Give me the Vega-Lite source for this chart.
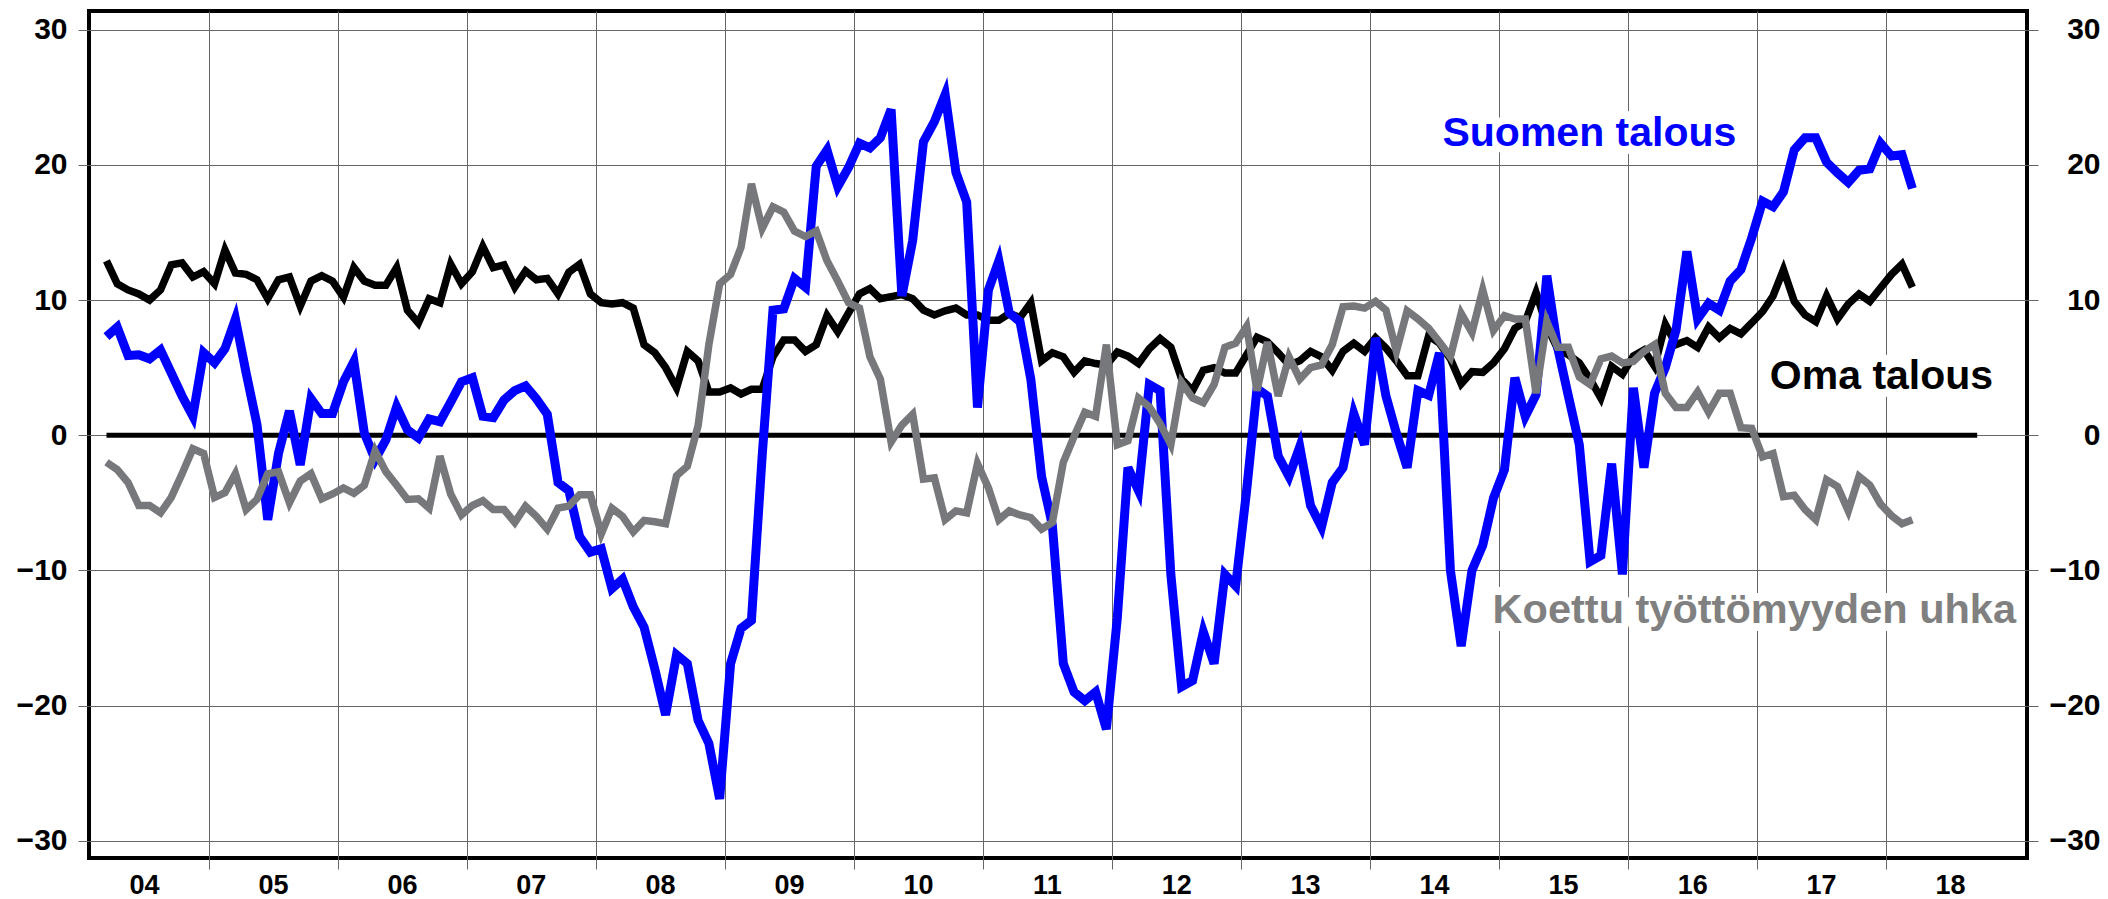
{
  "$schema": "https://vega.github.io/schema/vega-lite/v6.json",
  "width": 1938,
  "height": 847,
  "autosize": {"type": "none"},
  "padding": {"left": 89, "top": 11, "right": 81, "bottom": 41},
  "background": "white",
  "config": {
    "view": {"stroke": "black", "strokeWidth": 4},
    "font": "Liberation Sans"
  },
  "datasets": {
    "survey": [
      {"d":"2004-03","s":7.3,"o":12.9,"k":-2.0},
      {"d":"2004-04","s":8.0,"o":11.2,"k":-2.55},
      {"d":"2004-05","s":5.9,"o":10.75,"k":-3.5},
      {"d":"2004-06","s":5.95,"o":10.45,"k":-5.2},
      {"d":"2004-07","s":5.65,"o":10.0,"k":-5.2},
      {"d":"2004-08","s":6.3,"o":10.75,"k":-5.75},
      {"d":"2004-09","s":4.6,"o":12.6,"k":-4.6},
      {"d":"2004-10","s":2.9,"o":12.75,"k":-2.85},
      {"d":"2004-11","s":1.4,"o":11.7,"k":-1.0},
      {"d":"2004-12","s":6.1,"o":12.1,"k":-1.35},
      {"d":"2005-01","s":5.35,"o":11.2,"k":-4.6},
      {"d":"2005-02","s":6.4,"o":13.7,"k":-4.25},
      {"d":"2005-03","s":8.6,"o":12.0,"k":-2.85},
      {"d":"2005-04","s":4.6,"o":11.9,"k":-5.5},
      {"d":"2005-05","s":0.8,"o":11.5,"k":-4.75},
      {"d":"2005-06","s":-6.25,"o":10.1,"k":-2.85},
      {"d":"2005-07","s":-1.35,"o":11.5,"k":-2.7},
      {"d":"2005-08","s":1.8,"o":11.7,"k":-5.0},
      {"d":"2005-09","s":-2.2,"o":9.55,"k":-3.4},
      {"d":"2005-10","s":2.7,"o":11.4,"k":-2.85},
      {"d":"2005-11","s":1.6,"o":11.8,"k":-4.7},
      {"d":"2005-12","s":1.6,"o":11.4,"k":-4.35},
      {"d":"2006-01","s":3.95,"o":10.2,"k":-3.9},
      {"d":"2006-02","s":5.45,"o":12.4,"k":-4.3},
      {"d":"2006-03","s":0.15,"o":11.4,"k":-3.7},
      {"d":"2006-04","s":-1.8,"o":11.1,"k":-1.15},
      {"d":"2006-05","s":-0.35,"o":11.1,"k":-2.7},
      {"d":"2006-06","s":2.1,"o":12.4,"k":-3.7},
      {"d":"2006-07","s":0.4,"o":9.25,"k":-4.75},
      {"d":"2006-08","s":-0.2,"o":8.3,"k":-4.7},
      {"d":"2006-09","s":1.2,"o":10.1,"k":-5.4},
      {"d":"2006-10","s":1.0,"o":9.8,"k":-1.55},
      {"d":"2006-11","s":2.45,"o":12.65,"k":-4.35},
      {"d":"2006-12","s":3.95,"o":11.2,"k":-5.9},
      {"d":"2007-01","s":4.25,"o":12.1,"k":-5.2},
      {"d":"2007-02","s":1.4,"o":13.95,"k":-4.85},
      {"d":"2007-03","s":1.3,"o":12.4,"k":-5.5},
      {"d":"2007-04","s":2.6,"o":12.6,"k":-5.5},
      {"d":"2007-05","s":3.3,"o":10.95,"k":-6.45},
      {"d":"2007-06","s":3.65,"o":12.15,"k":-5.25},
      {"d":"2007-07","s":2.7,"o":11.5,"k":-6.0},
      {"d":"2007-08","s":1.55,"o":11.6,"k":-6.95},
      {"d":"2007-09","s":-3.5,"o":10.45,"k":-5.4},
      {"d":"2007-10","s":-4.1,"o":12.05,"k":-5.25},
      {"d":"2007-11","s":-7.5,"o":12.65,"k":-4.4},
      {"d":"2007-12","s":-8.65,"o":10.45,"k":-4.4},
      {"d":"2008-01","s":-8.4,"o":9.8,"k":-7.3},
      {"d":"2008-02","s":-11.35,"o":9.7,"k":-5.4},
      {"d":"2008-03","s":-10.65,"o":9.8,"k":-6.0},
      {"d":"2008-04","s":-12.7,"o":9.4,"k":-7.15},
      {"d":"2008-05","s":-14.2,"o":6.7,"k":-6.3},
      {"d":"2008-06","s":-17.3,"o":6.1,"k":-6.4},
      {"d":"2008-07","s":-20.7,"o":5.0,"k":-6.55},
      {"d":"2008-08","s":-16.25,"o":3.5,"k":-3.0},
      {"d":"2008-09","s":-16.9,"o":6.2,"k":-2.3},
      {"d":"2008-10","s":-21.1,"o":5.5,"k":0.7},
      {"d":"2008-11","s":-22.8,"o":3.2,"k":6.7},
      {"d":"2008-12","s":-26.9,"o":3.2,"k":11.2},
      {"d":"2009-01","s":-16.9,"o":3.5,"k":11.9},
      {"d":"2009-02","s":-14.3,"o":3.05,"k":13.9},
      {"d":"2009-03","s":-13.7,"o":3.4,"k":18.6},
      {"d":"2009-04","s":-1.5,"o":3.4,"k":15.3},
      {"d":"2009-05","s":9.25,"o":5.8,"k":16.9},
      {"d":"2009-06","s":9.35,"o":7.05,"k":16.5},
      {"d":"2009-07","s":11.6,"o":7.05,"k":15.1},
      {"d":"2009-08","s":10.95,"o":6.2,"k":14.7},
      {"d":"2009-09","s":19.9,"o":6.7,"k":15.1},
      {"d":"2009-10","s":21.1,"o":8.85,"k":12.9},
      {"d":"2009-11","s":18.4,"o":7.65,"k":11.4},
      {"d":"2009-12","s":19.8,"o":9.05,"k":9.8},
      {"d":"2010-01","s":21.6,"o":10.45,"k":9.4},
      {"d":"2010-02","s":21.25,"o":10.85,"k":5.8},
      {"d":"2010-03","s":22.0,"o":10.1,"k":4.15},
      {"d":"2010-04","s":24.1,"o":10.25,"k":-0.5},
      {"d":"2010-05","s":10.3,"o":10.4,"k":0.75},
      {"d":"2010-06","s":14.4,"o":10.1,"k":1.55},
      {"d":"2010-07","s":21.7,"o":9.25,"k":-3.25},
      {"d":"2010-08","s":23.2,"o":8.9,"k":-3.15},
      {"d":"2010-09","s":25.2,"o":9.2,"k":-6.25},
      {"d":"2010-10","s":19.45,"o":9.4,"k":-5.6},
      {"d":"2010-11","s":17.25,"o":8.9,"k":-5.75},
      {"d":"2010-12","s":2.05,"o":8.9,"k":-2.1},
      {"d":"2011-01","s":10.75,"o":8.5,"k":-3.9},
      {"d":"2011-02","s":12.9,"o":8.5,"k":-6.25},
      {"d":"2011-03","s":9.05,"o":9.0,"k":-5.6},
      {"d":"2011-04","s":8.4,"o":8.7,"k":-5.9},
      {"d":"2011-05","s":4.15,"o":9.8,"k":-6.1},
      {"d":"2011-06","s":-3.05,"o":5.5,"k":-6.95},
      {"d":"2011-07","s":-6.65,"o":6.1,"k":-6.45},
      {"d":"2011-08","s":-16.9,"o":5.8,"k":-2.0},
      {"d":"2011-09","s":-19.0,"o":4.65,"k":-0.1},
      {"d":"2011-10","s":-19.65,"o":5.5,"k":1.7},
      {"d":"2011-11","s":-19.0,"o":5.3,"k":1.4},
      {"d":"2011-12","s":-21.75,"o":5.2,"k":6.7},
      {"d":"2012-01","s":-13.5,"o":6.15,"k":-0.7},
      {"d":"2012-02","s":-2.4,"o":5.85,"k":-0.4},
      {"d":"2012-03","s":-4.1,"o":5.3,"k":2.75},
      {"d":"2012-04","s":3.75,"o":6.4,"k":2.1},
      {"d":"2012-05","s":3.3,"o":7.15,"k":0.85},
      {"d":"2012-06","s":-10.3,"o":6.5,"k":-0.7},
      {"d":"2012-07","s":-18.6,"o":4.15,"k":3.9},
      {"d":"2012-08","s":-18.15,"o":3.3,"k":2.75},
      {"d":"2012-09","s":-14.55,"o":4.8,"k":2.4},
      {"d":"2012-10","s":-16.9,"o":5.0,"k":3.75},
      {"d":"2012-11","s":-10.3,"o":4.6,"k":6.5},
      {"d":"2012-12","s":-11.15,"o":4.6,"k":6.8},
      {"d":"2013-01","s":-4.1,"o":5.95,"k":8.05},
      {"d":"2013-02","s":3.45,"o":7.25,"k":3.3},
      {"d":"2013-03","s":2.9,"o":6.9,"k":6.9},
      {"d":"2013-04","s":-1.55,"o":6.1,"k":2.9},
      {"d":"2013-05","s":-3.05,"o":5.2,"k":5.8},
      {"d":"2013-06","s":-0.85,"o":5.5,"k":4.15},
      {"d":"2013-07","s":-5.2,"o":6.2,"k":5.0},
      {"d":"2013-08","s":-6.8,"o":5.8,"k":5.2},
      {"d":"2013-09","s":-3.5,"o":4.8,"k":6.7},
      {"d":"2013-10","s":-2.4,"o":6.2,"k":9.5},
      {"d":"2013-11","s":1.6,"o":6.8,"k":9.55},
      {"d":"2013-12","s":-0.7,"o":6.2,"k":9.4},
      {"d":"2014-01","s":7.2,"o":7.2,"k":9.9},
      {"d":"2014-02","s":2.9,"o":6.45,"k":9.25},
      {"d":"2014-03","s":0.15,"o":5.5,"k":6.2},
      {"d":"2014-04","s":-2.4,"o":4.4,"k":9.2},
      {"d":"2014-05","s":3.3,"o":4.4,"k":8.6},
      {"d":"2014-06","s":2.95,"o":7.35,"k":7.9},
      {"d":"2014-07","s":6.1,"o":6.8,"k":6.9},
      {"d":"2014-08","s":-10.0,"o":5.65,"k":5.8},
      {"d":"2014-09","s":-15.6,"o":3.8,"k":9.0},
      {"d":"2014-10","s":-10.0,"o":4.7,"k":7.6},
      {"d":"2014-11","s":-8.15,"o":4.65,"k":10.75},
      {"d":"2014-12","s":-4.65,"o":5.35,"k":7.75},
      {"d":"2015-01","s":-2.55,"o":6.4,"k":8.85},
      {"d":"2015-02","s":4.25,"o":7.9,"k":8.6},
      {"d":"2015-03","s":1.4,"o":8.4,"k":8.6},
      {"d":"2015-04","s":3.0,"o":10.55,"k":3.1},
      {"d":"2015-05","s":11.8,"o":8.05,"k":8.4},
      {"d":"2015-06","s":6.5,"o":6.4,"k":6.5},
      {"d":"2015-07","s":2.9,"o":5.95,"k":6.5},
      {"d":"2015-08","s":-0.7,"o":5.35,"k":4.3},
      {"d":"2015-09","s":-9.35,"o":4.15,"k":3.75},
      {"d":"2015-10","s":-8.9,"o":2.75,"k":5.65},
      {"d":"2015-11","s":-2.1,"o":5.1,"k":5.85},
      {"d":"2015-12","s":-10.3,"o":4.5,"k":5.35},
      {"d":"2016-01","s":3.5,"o":5.85,"k":5.45},
      {"d":"2016-02","s":-2.4,"o":6.3,"k":6.2},
      {"d":"2016-03","s":3.1,"o":5.1,"k":6.7},
      {"d":"2016-04","s":5.0,"o":8.2,"k":3.1},
      {"d":"2016-05","s":7.8,"o":6.7,"k":2.05},
      {"d":"2016-06","s":13.6,"o":7.0,"k":2.05},
      {"d":"2016-07","s":8.6,"o":6.5,"k":3.2},
      {"d":"2016-08","s":9.75,"o":8.0,"k":1.7},
      {"d":"2016-09","s":9.25,"o":7.2,"k":3.1},
      {"d":"2016-10","s":11.4,"o":7.9,"k":3.1},
      {"d":"2016-11","s":12.25,"o":7.5,"k":0.55},
      {"d":"2016-12","s":14.6,"o":8.3,"k":0.5},
      {"d":"2017-01","s":17.3,"o":9.15,"k":-1.6},
      {"d":"2017-02","s":16.9,"o":10.3,"k":-1.35},
      {"d":"2017-03","s":18.0,"o":12.25,"k":-4.55},
      {"d":"2017-04","s":21.1,"o":9.9,"k":-4.45},
      {"d":"2017-05","s":22.0,"o":8.9,"k":-5.5},
      {"d":"2017-06","s":22.0,"o":8.4,"k":-6.25},
      {"d":"2017-07","s":20.2,"o":10.3,"k":-3.3},
      {"d":"2017-08","s":19.4,"o":8.6,"k":-3.8},
      {"d":"2017-09","s":18.7,"o":9.7,"k":-5.6},
      {"d":"2017-10","s":19.6,"o":10.45,"k":-3.05},
      {"d":"2017-11","s":19.7,"o":9.9,"k":-3.7},
      {"d":"2017-12","s":21.6,"o":10.9,"k":-5.1},
      {"d":"2018-01","s":20.65,"o":11.9,"k":-5.95},
      {"d":"2018-02","s":20.75,"o":12.65,"k":-6.55},
      {"d":"2018-03","s":18.25,"o":10.95,"k":-6.25}
    ],
    "zero": [
      {"d":"2004-03","v":0},
      {"d":"2018-09","v":0}
    ],
    "labels": [
      {"label":"Suomen talous","d":"2014-07-25","v":21.36},
      {"label":"Oma talous","d":"2017-02-06","v":3.42},
      {"label":"Koettu työttömyyden uhka","d":"2014-12-14","v":-13.9}
    ]
  },
  "layer": [
    {
      "data": {"name": "zero"},
      "mark": {"type": "line", "color": "black", "strokeWidth": 5},
      "encoding": {
        "x": {
          "field": "d", "type": "temporal", "timeUnit": "utcyearmonth", "bandPosition": 0.5,
          "scale": {"domain": [{"year": 2004, "month": 1, "date": 27, "utc": true}, {"year": 2019, "month": 2, "date": 4, "utc": true}]},
          "axis": {
            "orient": "bottom",
            "values": [
              {"year": 2005, "month": 1, "date": 1, "utc": true},
              {"year": 2006, "month": 1, "date": 1, "utc": true},
              {"year": 2007, "month": 1, "date": 1, "utc": true},
              {"year": 2008, "month": 1, "date": 1, "utc": true},
              {"year": 2009, "month": 1, "date": 1, "utc": true},
              {"year": 2010, "month": 1, "date": 1, "utc": true},
              {"year": 2011, "month": 1, "date": 1, "utc": true},
              {"year": 2012, "month": 1, "date": 1, "utc": true},
              {"year": 2013, "month": 1, "date": 1, "utc": true},
              {"year": 2014, "month": 1, "date": 1, "utc": true},
              {"year": 2015, "month": 1, "date": 1, "utc": true},
              {"year": 2016, "month": 1, "date": 1, "utc": true},
              {"year": 2017, "month": 1, "date": 1, "utc": true},
              {"year": 2018, "month": 1, "date": 1, "utc": true}
            ],
            "grid": true, "gridColor": "#666666", "gridWidth": 1,
            "ticks": true, "tickSize": 11, "tickColor": "#666666", "tickWidth": 1,
            "labels": false, "domain": false, "title": null
          }
        },
        "y": {
          "field": "v", "type": "quantitative",
          "scale": {"domain": [-31.28, 31.383], "nice": false, "zero": false},
          "axis": {
            "orient": "left",
            "values": [-30, -20, -10, 0, 10, 20, 30],
            "grid": true, "gridColor": "#666666", "gridWidth": 1,
            "ticks": true, "tickSize": 11, "tickColor": "#666666", "tickWidth": 1,
            "domain": false, "title": null,
            "labelFont": "Liberation Sans", "labelFontWeight": "bold", "labelFontSize": 30,
            "labelColor": "black", "labelPadding": 11, "labelFlush": false, "labelOverlap": false
          }
        }
      }
    },
    {
      "data": {"name": "survey"},
      "mark": {"type": "line", "color": "black", "strokeWidth": 7.5},
      "encoding": {
        "x": {
          "field": "d", "type": "temporal", "timeUnit": "utcyearmonth", "bandPosition": 0.5,
          "axis": {
            "orient": "bottom",
            "values": [
              {"year": 2004, "month": 7, "date": 1, "utc": true},
              {"year": 2005, "month": 7, "date": 1, "utc": true},
              {"year": 2006, "month": 7, "date": 1, "utc": true},
              {"year": 2007, "month": 7, "date": 1, "utc": true},
              {"year": 2008, "month": 7, "date": 1, "utc": true},
              {"year": 2009, "month": 7, "date": 1, "utc": true},
              {"year": 2010, "month": 7, "date": 1, "utc": true},
              {"year": 2011, "month": 7, "date": 1, "utc": true},
              {"year": 2012, "month": 7, "date": 1, "utc": true},
              {"year": 2013, "month": 7, "date": 1, "utc": true},
              {"year": 2014, "month": 7, "date": 1, "utc": true},
              {"year": 2015, "month": 7, "date": 1, "utc": true},
              {"year": 2016, "month": 7, "date": 1, "utc": true},
              {"year": 2017, "month": 7, "date": 1, "utc": true},
              {"year": 2018, "month": 7, "date": 1, "utc": true}
            ],
            "format": "%y",
            "grid": false, "ticks": false, "tickSize": 0, "domain": false, "title": null,
            "labelFont": "Liberation Sans", "labelFontWeight": "bold", "labelFontSize": 27,
            "labelColor": "black", "labelBaseline": "alphabetic", "labelPadding": 35,
            "labelFlush": false, "labelOverlap": false
          }
        },
        "y": {
          "field": "o", "type": "quantitative",
          "axis": {
            "orient": "right",
            "values": [-30, -20, -10, 0, 10, 20, 30],
            "grid": false,
            "ticks": true, "tickSize": 11, "tickColor": "#666666", "tickWidth": 1,
            "domain": false, "title": null,
            "labelFont": "Liberation Sans", "labelFontWeight": "bold", "labelFontSize": 30,
            "labelColor": "black", "labelAlign": "right", "labelPadding": 62,
            "labelFlush": false, "labelOverlap": false
          }
        }
      }
    },
    {
      "data": {"name": "survey"},
      "mark": {"type": "line", "color": "#0000ff", "strokeWidth": 9},
      "encoding": {
        "x": {"field": "d", "type": "temporal", "timeUnit": "utcyearmonth", "bandPosition": 0.5, "axis": null},
        "y": {"field": "s", "type": "quantitative", "axis": null}
      }
    },
    {
      "data": {"name": "survey"},
      "mark": {"type": "line", "color": "#77787b", "strokeWidth": 7.5},
      "encoding": {
        "x": {"field": "d", "type": "temporal", "timeUnit": "utcyearmonth", "bandPosition": 0.5, "axis": null},
        "y": {"field": "k", "type": "quantitative", "axis": null}
      }
    },
    {
      "data": {"name": "labels"},
      "mark": {"type": "text", "align": "left", "baseline": "alphabetic", "font": "Liberation Sans", "fontWeight": "bold", "fontSize": 41.5, "fill": "white", "stroke": "white", "strokeWidth": 16, "strokeJoin": "round"},
      "encoding": {
        "x": {"field": "d", "type": "temporal", "timeUnit": "utcyearmonthdate", "axis": null},
        "y": {"field": "v", "type": "quantitative", "axis": null},
        "text": {"field": "label"}
      }
    },
    {
      "data": {"name": "labels"},
      "transform": [{"filter": "datum.label === 'Suomen talous'"}],
      "mark": {"type": "text", "align": "left", "baseline": "alphabetic", "font": "Liberation Sans", "fontWeight": "bold", "fontSize": 41, "color": "#0000ff"},
      "encoding": {
        "x": {"field": "d", "type": "temporal", "timeUnit": "utcyearmonthdate", "axis": null},
        "y": {"field": "v", "type": "quantitative", "axis": null},
        "text": {"field": "label"}
      }
    },
    {
      "data": {"name": "labels"},
      "transform": [{"filter": "datum.label === 'Oma talous'"}],
      "mark": {"type": "text", "align": "left", "baseline": "alphabetic", "font": "Liberation Sans", "fontWeight": "bold", "fontSize": 41, "color": "black"},
      "encoding": {
        "x": {"field": "d", "type": "temporal", "timeUnit": "utcyearmonthdate", "axis": null},
        "y": {"field": "v", "type": "quantitative", "axis": null},
        "text": {"field": "label"}
      }
    },
    {
      "data": {"name": "labels"},
      "transform": [{"filter": "datum.label === 'Koettu työttömyyden uhka'"}],
      "mark": {"type": "text", "align": "left", "baseline": "alphabetic", "font": "Liberation Sans", "fontWeight": "bold", "fontSize": 41.5, "color": "#808080"},
      "encoding": {
        "x": {"field": "d", "type": "temporal", "timeUnit": "utcyearmonthdate", "axis": null},
        "y": {"field": "v", "type": "quantitative", "axis": null},
        "text": {"field": "label"}
      }
    }
  ],
  "resolve": {"axis": {"x": "independent", "y": "independent"}}
}
